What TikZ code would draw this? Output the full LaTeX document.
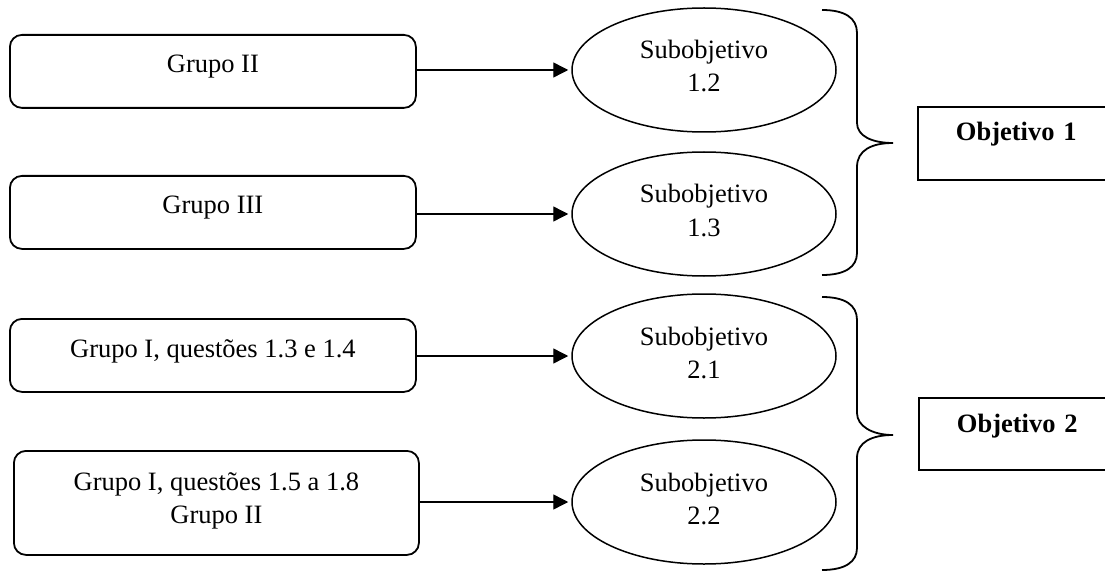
\documentclass[tikz,border=0pt]{standalone}
\usepackage{fontspec}
\setmainfont{Liberation Serif}
\usetikzlibrary{arrows.meta,shapes.geometric}
\begin{document}
\begin{tikzpicture}[x=1pt,y=-1pt,
  every node/.style={font=\fontsize{26.5}{33}\selectfont},
  grpbox/.style={draw, line width=1.8pt, rounded corners=12pt, inner sep=0pt,
    minimum width=406pt, text height=38pt, text depth=35pt, anchor=north west},
  subell/.style={draw, ellipse, line width=1.5pt, minimum width=264pt,
    minimum height=124pt, inner sep=0pt, text height=11pt, text depth=33pt},
  objbox/.style={draw, line width=1.8pt, anchor=north west, inner xsep=38pt,
    inner ysep=0pt, text width=180pt, align=left},
  link/.style={line width=1.4pt, -{Triangle[length=15pt,width=15pt]}, shorten >=3pt},
  bracepath/.style={line width=1.8pt}]
\useasboundingbox (0,0) rectangle (1105,572);
\begin{scope}
\clip (0,0) rectangle (1105,572);
% left boxes
\node[grpbox] (g1) at (9,34) {Grupo II};
\node[grpbox] (g2) at (9,175) {Grupo III};
\node[grpbox, text height=39pt, text depth=34pt] (g3) at (9,318) {Grupo I, questões 1.3 e 1.4};
\node[grpbox, minimum width=405pt, text height=40pt, text depth=64pt] (g4) at (13,450)
  {\begin{tabular}[t]{@{}c@{}}Grupo I, questões 1.5 a 1.8\\Grupo II\end{tabular}};
% ellipses
\node[subell] (e1) at (704,70) {\begin{tabular}[t]{@{}c@{}}Subobjetivo\\1.2\end{tabular}};
\node[subell] (e2) at (704,214) {\begin{tabular}[t]{@{}c@{}}Subobjetivo\\1.3\end{tabular}};
\node[subell] (e3) at (704,356) {\begin{tabular}[t]{@{}c@{}}Subobjetivo\\2.1\end{tabular}};
\node[subell] (e4) at (704,502) {\begin{tabular}[t]{@{}c@{}}Subobjetivo\\2.2\end{tabular}};
% arrows
\draw[link] (g1.east |- e1.west) -- (e1.west);
\draw[link] (g2.east |- e2.west) -- (e2.west);
\draw[link] (g3.east |- e3.west) -- (e3.west);
\draw[link] (g4.east |- e4.west) -- (e4.west);
% braces
\draw[bracepath] (822,10) .. controls (845,10) and (857,18) .. (857,33) -- (857,123)
  .. controls (857,136) and (872,143) .. (893,143)
  .. controls (872,143) and (857,150) .. (857,167) -- (857,253)
  .. controls (857,267) and (845,275) .. (822,275);
\draw[bracepath] (822,297) .. controls (845,297) and (857,305) .. (857,320) -- (857,413)
  .. controls (857,426) and (872,435) .. (893,435)
  .. controls (872,435) and (857,442) .. (857,458) -- (857,548)
  .. controls (857,562) and (845,570) .. (822,570);
% objective boxes
\node[objbox, text height=34pt, text depth=39pt] (o1) at (917,106) {\textbf{Objetivo 1}};
\node[objbox, text height=35pt, text depth=37pt] (o2) at (918,397) {\textbf{Objetivo 2}};
\end{scope}
\end{tikzpicture}
\end{document}
